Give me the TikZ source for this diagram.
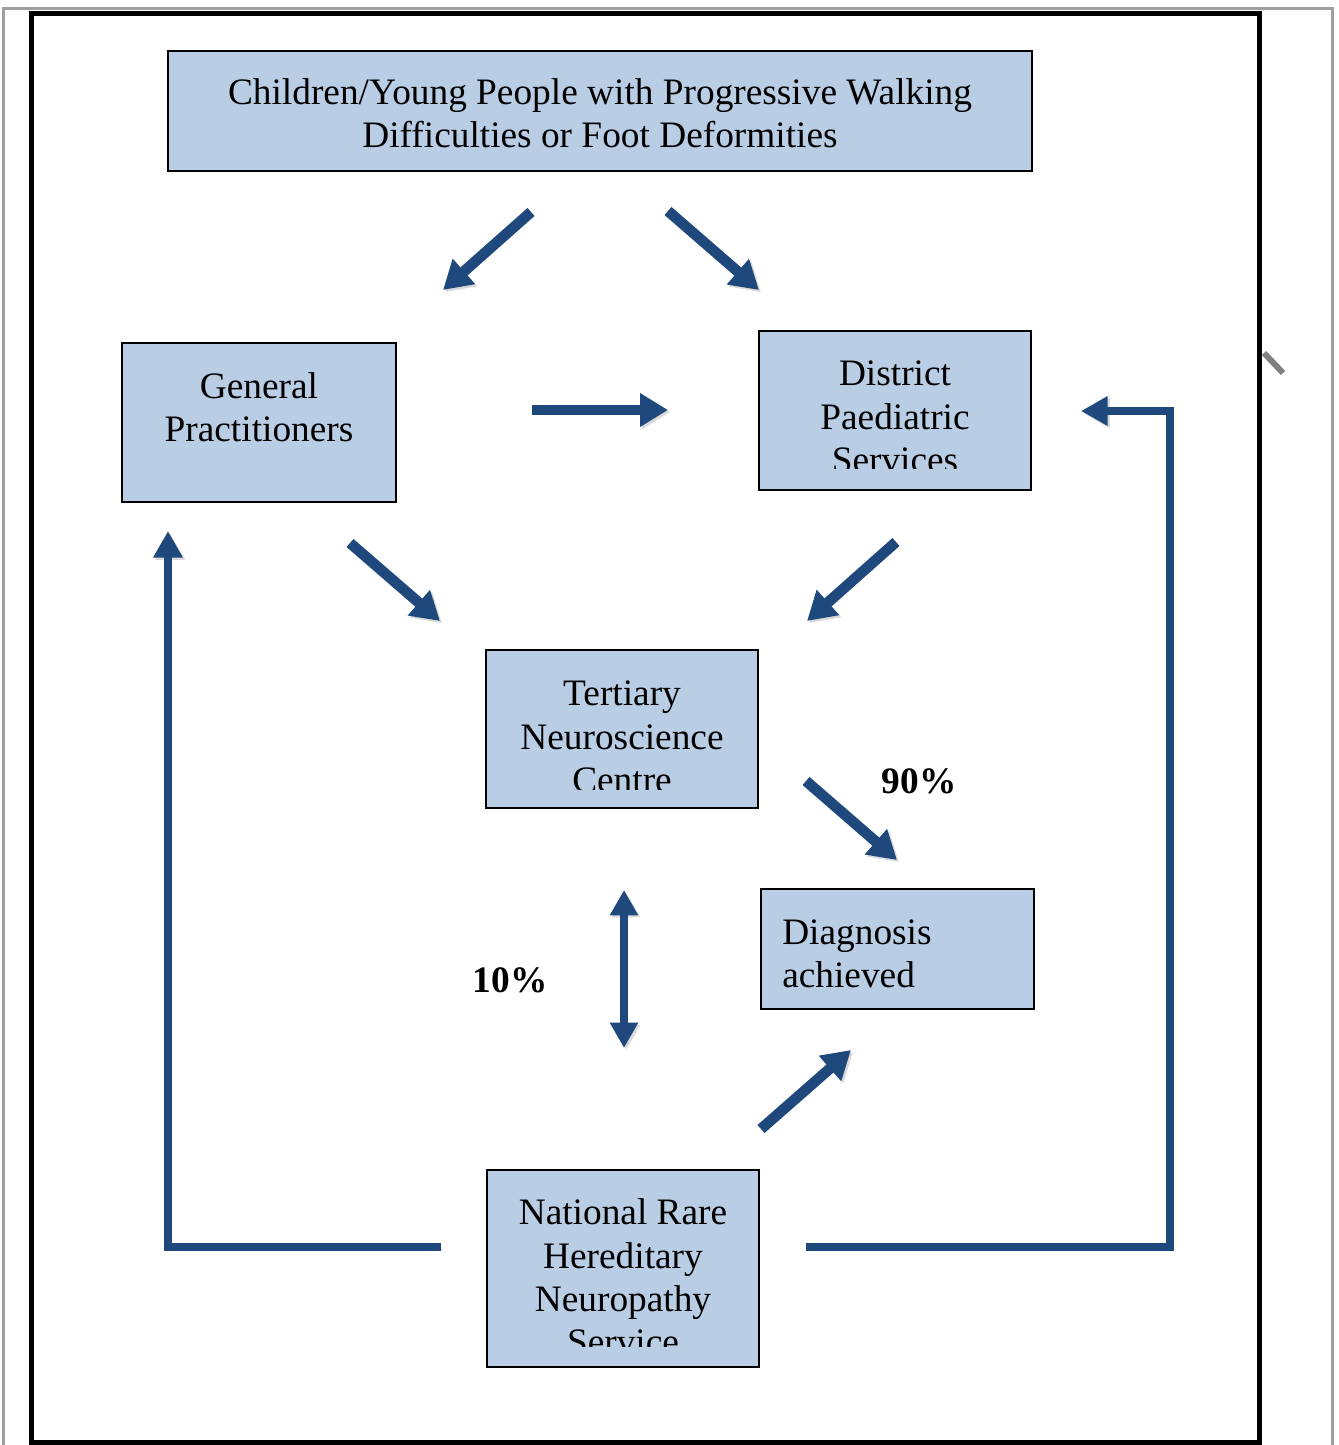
\documentclass[tikz,border=0pt]{standalone}
\usepackage{fontspec}
\setmainfont{Liberation Serif}
\usetikzlibrary{arrows.meta}
\definecolor{boxfill}{HTML}{B9CDE5}
\definecolor{flowblue}{HTML}{1F497D}
\begin{document}
\begin{tikzpicture}[x=0.75pt, y=-0.75pt,
    box/.style={draw=black, line width=1.4pt, fill=boxfill, inner sep=0pt},
    lbl/.style={align=center, font=\fontsize{28}{32.6}\selectfont, inner sep=0pt},
    pct/.style={font=\fontsize{28}{32.6}\selectfont\bfseries, inner sep=0pt},
    shade/.style={preaction={draw=black!15, transform canvas={xshift=1.6pt, yshift=-1.6pt}}},
    flow/.style={draw=flowblue, line width=8pt, shade, -{Triangle[length=21pt,width=24pt]}},
    both/.style={draw=flowblue, line width=6.5pt, shade, {Triangle[length=19pt,width=20pt]}-{Triangle[length=19pt,width=20pt]}},
    elbow/.style={draw=flowblue, line width=6pt, line join=miter, shade, -{Triangle[length=20pt,width=21pt]}}]
\useasboundingbox (0,0) rectangle (1338,1445);
\draw[gray!75, line width=1.6pt] (3.5,1445) |- (1332.5,8.5) -- (1332.5,1445);
\draw[line width=4pt] (31.5,1443) rectangle (1259.5,13.5);
\draw[gray, line width=4.5pt] (1264,353) -- (1283,373);

\node[box, minimum width=648pt, minimum height=90pt] (young) at (600,111) {};
\node[lbl] (youngtxt) at (600,113) {Children/Young People with Progressive Walking\\Difficulties or Foot Deformities};
\node[box, minimum width=205.5pt, minimum height=119.25pt] (gp) at (259,422.5) {};
\node[lbl] (gptxt) at (259,407) {General\\Practitioners};
\node[box, minimum width=204pt, minimum height=119.25pt] (dps) at (895,410.5) {};
\begin{scope}
\clip (759,331) rectangle (1031,468);
\node[lbl] (dpstxt) at (895,417) {District\\Paediatric\\Services};
\end{scope}
\node[box, minimum width=204pt, minimum height=118.5pt] (tnc) at (622,729) {};
\begin{scope}
\clip (486,650) rectangle (758,789);
\node[lbl] (tnctxt) at (622,737) {Tertiary\\Neuroscience\\Centre};
\end{scope}
\node[box, minimum width=204.75pt, minimum height=90pt] (diag) at (897.5,949) {};
\node[lbl, align=left, anchor=west] (diagtxt) at (782,954) {Diagnosis\\achieved};
\node[box, minimum width=204pt, minimum height=147.75pt] (nat) at (623,1268.5) {};
\begin{scope}
\clip (487,1170) rectangle (759,1346);
\node[lbl] (nattxt) at (623,1277) {National Rare\\Hereditary\\Neuropathy\\Service};
\end{scope}

\node[pct] (p90) at (919,781) {90\%};
\node[pct] (p10) at (510,980) {10\%};

\coordinate (a1) at (531,212); \coordinate (a1e) at (443,290);
\coordinate (a2) at (668,211); \coordinate (a2e) at (759,290);
\coordinate (a3) at (532,410); \coordinate (a3e) at (668,410);
\coordinate (a4) at (350,543); \coordinate (a4e) at (440,621);
\coordinate (a5) at (896,542); \coordinate (a5e) at (807,621);
\coordinate (a6) at (806,781); \coordinate (a6e) at (897,860);
\coordinate (a7) at (624,890); \coordinate (a7e) at (624,1048);
\coordinate (a8) at (761,1129); \coordinate (a8e) at (851,1050);
\draw[flow] (a1) -- (a1e);
\draw[flow] (a2) -- (a2e);
\draw[flow] (a3) -- (a3e);
\draw[flow] (a4) -- (a4e);
\draw[flow] (a5) -- (a5e);
\draw[flow] (a6) -- (a6e);
\draw[both] (a7) -- (a7e);
\draw[flow] (a8) -- (a8e);

\coordinate (natl) at (441,1247); \coordinate (gpin) at (168,531);
\coordinate (natr) at (806,1247); \coordinate (turn) at (1170,411); \coordinate (dpsin) at (1081,411);
\draw[elbow] (natl) -| (gpin);
\draw[elbow] (natr) -| (turn) -- (dpsin);
\end{tikzpicture}
\end{document}
